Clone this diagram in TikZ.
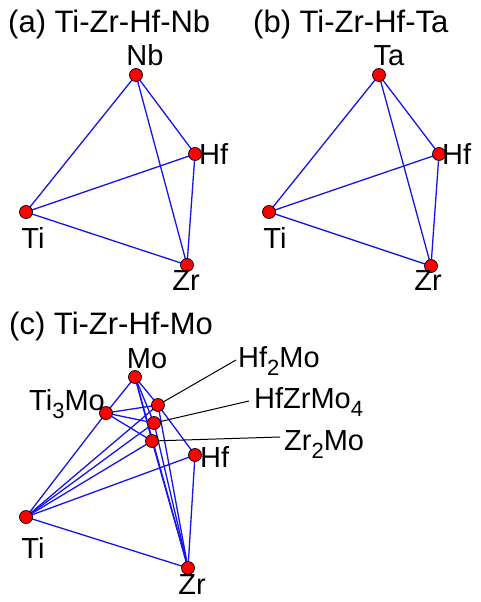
\documentclass[tikz,border=0pt]{standalone}
\usepackage{fontspec}
\setmainfont{Liberation Sans}
\newcommand\mysub[1]{\raisebox{-8pt}{\fontsize{22}{22}\selectfont #1}}
\tikzset{
  edge/.style={draw={rgb,255:red,20;green,20;blue,235}, line width=1.3pt},
  leader/.style={draw=black, line width=1pt},
  dot/.style={circle, fill=red, draw=black, line width=0.7pt, minimum size=13pt, inner sep=0pt},
  lab/.style={inner sep=0pt, anchor=base, font=\fontsize{29}{29}\selectfont},
  labw/.style={inner sep=0pt, anchor=base west, font=\fontsize{29}{29}\selectfont},
  ttl/.style={inner sep=0pt, anchor=base west, font=\fontsize{31}{31}\selectfont}
}
\begin{document}
\begin{tikzpicture}[x=1pt,y=-1pt]
\useasboundingbox (0,0) rectangle (480,602);
% ---------- (a)
\node[ttl] (ta) at (8,33) {(a) Ti-Zr-Hf-Nb};
\coordinate (aNb) at (136,75);
\coordinate (aHf) at (195,154);
\coordinate (aTi) at (26,212);
\coordinate (aZr) at (187,265);
\draw[edge] (aNb) -- (aTi);
\draw[edge] (aNb) -- (aHf);
\draw[edge] (aNb) -- (aZr);
\draw[edge] (aHf) -- (aTi);
\draw[edge] (aHf) -- (aZr);
\draw[edge] (aTi) -- (aZr);
\foreach \n in {aNb,aHf,aTi,aZr} \node[dot] at (\n) {};
\node[lab] (laNb) at (145,66) {Nb};
\node[labw] (laHf) at (199,164) {Hf};
\node[lab] (laTi) at (33,248) {Ti};
\node[lab] (laZr) at (186,290) {Zr};
% ---------- (b)
\node[ttl] (tb) at (253,33) {(b) Ti-Zr-Hf-Ta};
\coordinate (bTa) at (379,75);
\coordinate (bHf) at (439,154);
\coordinate (bTi) at (269,212);
\coordinate (bZr) at (431,266);
\draw[edge] (bTa) -- (bTi);
\draw[edge] (bTa) -- (bHf);
\draw[edge] (bTa) -- (bZr);
\draw[edge] (bHf) -- (bTi);
\draw[edge] (bHf) -- (bZr);
\draw[edge] (bTi) -- (bZr);
\foreach \n in {bTa,bHf,bTi,bZr} \node[dot] at (\n) {};
\node[lab] (lbTa) at (389,66) {Ta};
\node[labw] (lbHf) at (442,164) {Hf};
\node[lab] (lbTi) at (275,248) {Ti};
\node[lab] (lbZr) at (428,290) {Zr};
% ---------- (c)
\node[ttl] (tc) at (9,334) {(c) Ti-Zr-Hf-Mo};
\coordinate (cMo) at (135,377);
\coordinate (cT3) at (106,413);
\coordinate (cH2) at (158,405);
\coordinate (cHZ) at (154,423);
\coordinate (cZ2) at (152,441);
\coordinate (cHf) at (195,455);
\coordinate (cTi) at (26,517);
\coordinate (cZr) at (188,568);
\draw[edge] (cMo) -- (cT3);
\draw[edge] (cMo) -- (cH2);
\draw[edge] (cMo) -- (cHZ);
\draw[edge] (cMo) -- (cZ2);
\draw[edge] (cMo) -- (cZr);
\draw[edge] (cT3) -- (cTi);
\draw[edge] (cT3) -- (cH2);
\draw[edge] (cT3) -- (cHZ);
\draw[edge] (cT3) -- (cZ2);
\draw[edge] (cTi) -- (cH2);
\draw[edge] (cTi) -- (cHZ);
\draw[edge] (cTi) -- (cZ2);
\draw[edge] (cTi) -- (cHf);
\draw[edge] (cTi) -- (cZr);
\draw[edge] (cH2) -- (cHf);
\draw[edge] (cH2) -- (cZr);
\draw[edge] (cHZ) -- (cZr);
\draw[edge] (cZ2) -- (cZr);
\draw[edge] (cHf) -- (cZr);
\coordinate (eH2) at (236,360);
\coordinate (eHZ) at (249,401);
\coordinate (eZ2) at (280,437);
\draw[leader] (cH2) -- (eH2);
\draw[leader] (cHZ) -- (eHZ);
\draw[leader] (cZ2) -- (eZ2);
\foreach \n in {cMo,cT3,cH2,cHZ,cZ2,cHf,cTi,cZr} \node[dot] at (\n) {};
\node[lab] (lcMo) at (147,368) {Mo};
\node[labw] (lcT3) at (29,410) {Ti\mysub{3}Mo};
\node[labw] (lcH2) at (238,367) {Hf\mysub{2}Mo};
\node[labw] (lcHZ) at (254,408) {HfZrMo\mysub{4}};
\node[labw] (lcZ2) at (284,450) {Zr\mysub{2}Mo};
\node[labw] (lcHf) at (200,467) {Hf};
\node[lab] (lcTi) at (33,558) {Ti};
\node[lab] (lcZr) at (192,594) {Zr};
\end{tikzpicture}
\end{document}
